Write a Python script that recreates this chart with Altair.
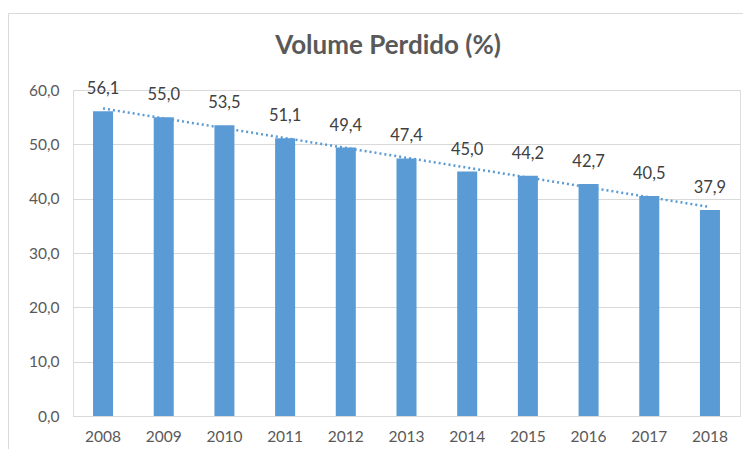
import altair as alt
import pandas as pd

years = [2008, 2009, 2010, 2011, 2012, 2013, 2014, 2015, 2016, 2017, 2018]
values = [56.1, 55.0, 53.5, 51.1, 49.4, 47.4, 45.0, 44.2, 42.7, 40.5, 37.9]
title_text = "Volume Perdido (%)"

df = pd.DataFrame({"ano": years, "valor": values})

FONT = "Lato"
BAR = "#5B9BD5"
GRID = "#D9D9D9"
TXT = "#595959"

x = alt.X("ano:O", title=None,
          scale=alt.Scale(paddingInner=0.67, paddingOuter=0.33),
          axis=alt.Axis(labelAngle=0, ticks=False, domain=True, domainColor=GRID,
                        labelPadding=13, labelFontSize=15.5, labelColor=TXT, labelFont=FONT))
y = alt.Y("valor:Q", title=None,
          scale=alt.Scale(domain=[0, 60]),
          axis=alt.Axis(values=[0, 10, 20, 30, 40, 50, 60], format=".1f", ticks=False, domain=False,
                        gridColor=GRID, labelPadding=14, labelFontSize=15.5, labelColor=TXT,
                        labelFont=FONT))

base = alt.Chart(df)

border = alt.Chart(pd.DataFrame({"k": [0]})).mark_rect(
    fill=None, stroke=GRID, strokeWidth=1
).encode(x=alt.value(-64.5), x2=alt.value(700), y=alt.value(-76.5), y2=alt.value(420))

title = alt.Chart(pd.DataFrame({"t": [title_text]})).mark_text(
    fontSize=26, fontWeight="bold", color=TXT, font=FONT, align="center", baseline="middle"
).encode(x=alt.value(315), y=alt.value(-44), text="t:N")

bars = base.mark_bar(color=BAR).encode(x=x, y=y)

labels = base.mark_text(baseline="middle", dy=-22, fontSize=16.5, color="#404040", font=FONT).encode(
    x=x, y=y, text=alt.Text("valor:Q", format=".1f"))

trend = base.transform_regression("ano", "valor").mark_line(
    color=BAR, strokeWidth=2.5, strokeDash=[2, 3]
).encode(x="ano:O", y="valor:Q")

chart = alt.layer(border, title, bars, trend, labels).properties(
    width=667, height=326,
    padding={"left": 65, "top": 82, "right": 3, "bottom": 33},
    autosize=alt.AutoSizeParams(type="none"),
).configure_view(stroke=None).configure(
    locale={"number": {"decimal": ",", "thousands": ".", "grouping": [3], "currency": ["R$", ""]}}
)

chart.save("out.html", embed_options={"renderer": "svg", "actions": False})
